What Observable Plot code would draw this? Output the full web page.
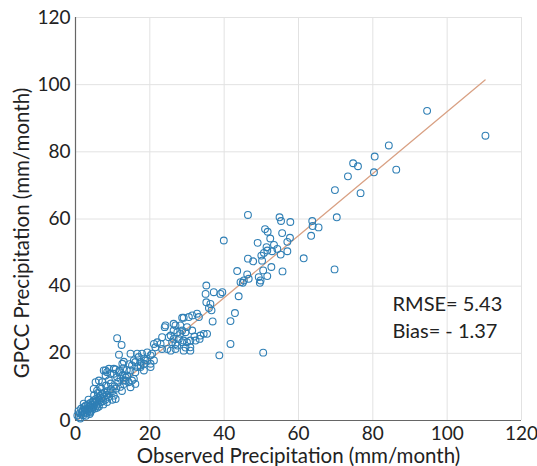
<!DOCTYPE html>
<html><head><meta charset="utf-8">
<script src="https://cdn.jsdelivr.net/npm/d3@7"></script>
<script src="https://cdn.jsdelivr.net/npm/@observablehq/plot@0.6"></script>
<style>body{margin:0;background:#fff}</style>
</head><body><div id="chart"></div>
<script>
// Observed precipitation (mm/month) for each station-month
const observed = [
110.3,94.6,84.3,80.5,86.3,80.3,74.7,76.0,73.3,76.7,69.8,70.3,69.7,63.7,63.8,65.4,63.4,61.4,
54.9,55.3,57.8,51.0,51.7,55.6,57.7,52.4,49.0,53.4,57.0,51.4,54.3,50.7,52.9,57.0,55.2,46.4,47.8,50.2,50.0,51.6,
52.7,55.7,46.2,50.5,49.3,45.3,46.6,49.8,44.4,43.5,51.6,49.6,45.0,46.4,39.9,50.5,
43.9,41.7,42.9,41.7,38.7,35.2,35.0,35.2,37.2,39.0,39.5,35.9,36.6,36.9,36.3,
32.7,33.2,34.5,35.4,31.4,32.0,30.9,29.6,29.1,31.4,30.5,29.1,26.9,28.2,24.2,30.0,28.7,26.4,27.4,29.6,33.6,
23.3,25.6,25.1,27.8,26.0,30.0,28.7,30.9,32.3,21.1,22.0,22.9,21.5,23.3,24.7,25.6,26.9,29.1,27.4,33.4,26.4,26.9,28.2,24.0,28.7,26.4,30.9,
20.6,19.3,17.9,16.6,17.0,18.4,17.5,15.7,19.3,20.2,20.2,18.8,21.1,20.2,14.8,11.7,11.2,12.4,12.6,16.1,15.2,16.6,17.5,18.4,
14.8,16.1,13.9,15.7,13.0,14.3,17.5,18.4,7.6,8.5,9.4,8.1,10.3,11.2,12.1,12.6,13.5,13.0,15.2,14.8,16.1,10.3,9.9,10.8,5.8,4.9,6.7,7.2,6.3,5.4,
0.5,0.8,1.0,1.2,1.5,1.6,1.8,2.0,2.1,2.3,2.5,2.6,2.8,3.0,3.1,3.3,3.4,3.6,3.8,3.9,4.0,4.2,4.3,4.5,4.6,4.8,4.9,5.0,5.2,5.3,
5.5,5.6,5.8,6.0,6.1,6.3,6.5,6.6,6.8,7.0,7.2,7.4,7.6,7.8,8.0,8.3,8.6,8.9,9.2,9.5,3.5,2.2,5.0,6.0,7.0,4.0,5.8,7.5,8.5,1.3,2.8,3.8,
9.5,8.2,10.0,11.0,12.0,11.5,10.5,12.5,13.5,9.0,10.8,11.8,12.8,13.8,14.5,13.0,8.1,9.0,10.3,11.7
];
// GPCC precipitation (mm/month) for the same station-months
const gpcc = [
84.8,92.2,81.9,78.6,74.7,73.9,76.6,75.7,72.7,67.7,68.6,60.5,45.0,59.4,57.9,57.5,55.0,48.3,
60.5,59.4,59.1,57.0,56.2,55.8,54.4,54.2,52.9,52.3,53.2,51.6,51.1,49.9,50.4,50.4,49.4,48.2,47.4,47.6,49.1,50.6,
45.7,44.4,43.5,44.7,42.7,41.7,42.2,41.7,41.2,44.5,43.0,41.0,41.0,61.2,53.6,20.2,
37.0,29.6,32.0,22.8,19.4,40.2,37.7,35.2,38.2,37.7,38.2,33.5,32.8,29.5,34.7,
31.8,30.8,25.8,25.8,26.8,25.0,20.8,21.7,23.8,31.3,30.8,30.6,28.3,28.3,28.3,27.8,26.8,26.8,26.3,26.3,25.3,
24.8,25.3,24.8,24.3,23.3,23.3,23.3,23.8,23.8,22.8,23.3,22.8,21.8,21.3,21.3,20.8,21.3,20.8,22.3,24.3,24.3,22.8,25.8,27.8,30.6,28.8,21.8,
19.9,20.3,19.9,19.9,18.9,18.4,17.4,17.9,17.9,15.9,19.4,17.9,17.9,16.9,19.9,19.6,24.5,22.5,16.9,17.4,16.4,15.9,16.4,16.9,
14.9,14.4,13.4,12.4,11.9,11.4,15.9,14.9,14.9,14.4,13.9,13.4,13.9,12.9,12.4,13.4,11.9,10.9,11.9,9.9,10.9,7.4,6.2,6.4,8.9,9.4,9.9,11.4,11.9,11.4,
1.5,2.8,1.0,2.2,3.5,1.8,2.6,3.0,1.6,4.0,2.4,3.3,4.5,2.2,3.6,2.9,4.8,3.4,4.2,2.7,5.2,3.8,4.6,3.2,5.6,4.1,6.0,4.8,3.6,5.4,
6.4,4.4,5.8,5.0,6.8,4.2,6.0,7.4,5.4,6.6,8.0,5.8,7.0,8.4,6.2,7.6,8.8,7.0,8.2,9.4,6.2,5.0,7.5,8.2,9.5,2.4,3.8,4.8,5.5,0.6,1.4,1.9,
11.0,10.4,8.8,9.5,10.0,11.5,10.2,8.8,12.8,12.0,15.2,14.8,15.5,15.0,16.8,17.5,14.9,15.4,15.4,14.4
];
// Fitted line end points
const fitObs = [0.5, 110.2];
const fitGpcc = [0.1, 101.4];
const xTicks = [0, 20, 40, 60, 80, 100, 120];
const yTicks = [0, 20, 40, 60, 80, 100, 120];
const xLabel = "Observed Precipitation (mm/month)";
const yLabel = "GPCC Precipitation (mm/month)";
const notes = ["RMSE= 5.43", "Bias= - 1.37"];
const noteX = [85.3, 85.3];
const noteY = [34.5, 26.5];

const points = observed.map((x, i) => ({x, y: gpcc[i]}));
const fit = fitObs.map((x, i) => ({x, y: fitGpcc[i]}));
const noteData = notes.map((t, i) => ({t, x: noteX[i], y: noteY[i]}));

const plot = Plot.plot({
  width: 537, height: 466,
  marginLeft: 75, marginRight: 16, marginTop: 17, marginBottom: 46,
  style: {fontFamily: "Lato, 'Open Sans', sans-serif", fontSize: "19px", color: "#222", background: "#fff", overflow: "visible"},
  x: {domain: [0, 120]},
  y: {domain: [0, 120]},
  marks: [
    Plot.gridX(xTicks, {stroke: "#e2e2e2", strokeOpacity: 1}),
    Plot.gridY(yTicks, {stroke: "#e2e2e2", strokeOpacity: 1}),
    Plot.axisX(xTicks, {tickSize: 0, tickPadding: 6, label: null, fontSize: 19}),
    Plot.axisY(yTicks, {tickSize: 0, tickPadding: 5, label: null, fontSize: 19}),
    Plot.ruleX([0], {stroke: "#666", strokeWidth: 1.2}),
    Plot.ruleY([0], {stroke: "#666", strokeWidth: 1.2}),
    Plot.line(fit, {x: "x", y: "y", stroke: "#d9a184", strokeWidth: 1.3}),
    Plot.dot(points, {x: "x", y: "y", r: 3.4, stroke: "#2f7fb5", strokeWidth: 1.1, fill: "none"}),
    Plot.text(noteData, {x: "x", y: "y", text: "t", textAnchor: "start", fontSize: 20, fill: "#222"}),
    Plot.text([xLabel], {frameAnchor: "bottom", textAnchor: "middle", lineAnchor: "middle", dy: 36, fontSize: 20.5, fill: "#222"}),
    Plot.text([yLabel], {frameAnchor: "left", textAnchor: "middle", lineAnchor: "middle", rotate: -90, dx: -53, dy: 14, fontSize: 20.5, fill: "#222"})
  ]
});
document.getElementById("chart").append(plot);
</script>
</body></html>
